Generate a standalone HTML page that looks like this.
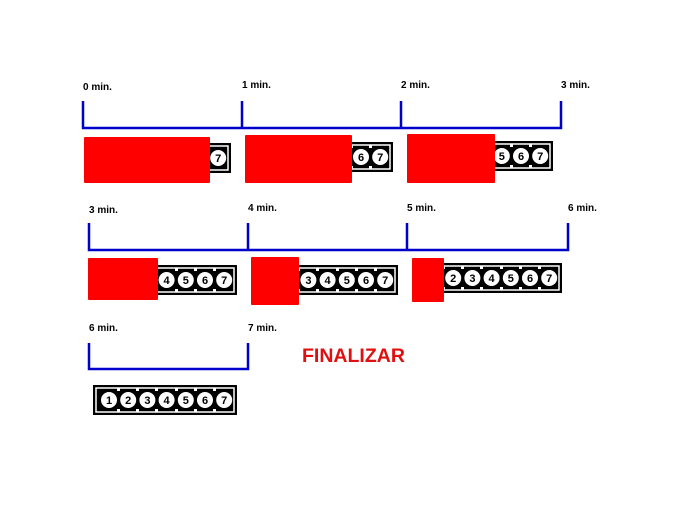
<!DOCTYPE html>
<html><head><meta charset="utf-8"><style>
html,body{margin:0;padding:0;background:#fff;width:700px;height:509px;overflow:hidden}
svg{display:block}
text{font-family:"Liberation Sans",Arial,sans-serif;font-weight:bold}
.l{font-size:10px;fill:#000}
.n{font-size:11px;fill:#000;text-anchor:middle}
</style></head><body>
<svg width="700" height="509" viewBox="0 0 700 509" xmlns="http://www.w3.org/2000/svg">
<g stroke="#0000cc" stroke-width="2.5" fill="none">
<path d="M83,101V128H561V101M242,101V128M401,101V128"/>
<path d="M89,223V250H568V223M248,223V250M407,223V250"/>
<path d="M89,343V369H248V343"/>
</g>
<text class="l" x="83" y="90">0 min.</text>
<text class="l" x="242" y="88">1 min.</text>
<text class="l" x="401" y="88">2 min.</text>
<text class="l" x="561" y="88">3 min.</text>
<text class="l" x="89" y="213">3 min.</text>
<text class="l" x="248" y="211">4 min.</text>
<text class="l" x="407" y="211">5 min.</text>
<text class="l" x="568" y="211">6 min.</text>
<text class="l" x="89" y="331">6 min.</text>
<text class="l" x="248" y="331">7 min.</text>
<text x="302" y="362" style="font-size:19.5px;fill:#e01010">FINALIZAR</text>

<g transform="translate(87,143)"><rect width="144" height="30" fill="#000"/><rect x="3" y="3" width="138" height="24" fill="none" stroke="#fff" stroke-width="1.5"/><g fill="#fff"><circle cx="16" cy="15" r="8"/><circle cx="35.2" cy="15" r="8"/><circle cx="54.4" cy="15" r="8"/><circle cx="73.6" cy="15" r="8"/><circle cx="92.8" cy="15" r="8"/><circle cx="112" cy="15" r="8"/><circle cx="131.2" cy="15" r="8"/><rect x="24" y="3" width="3" height="3"/><rect x="43" y="3" width="3" height="3"/><rect x="62" y="3" width="3" height="3"/><rect x="82" y="3" width="3" height="3"/><rect x="101" y="3" width="3" height="3"/><rect x="120" y="3" width="3" height="3"/><rect x="24" y="24" width="3" height="3"/><rect x="43" y="24" width="3" height="3"/><rect x="62" y="24" width="3" height="3"/><rect x="82" y="24" width="3" height="3"/><rect x="101" y="24" width="3" height="3"/><rect x="120" y="24" width="3" height="3"/></g><text class="n" x="16" y="19">1</text><text class="n" x="35.2" y="19">2</text><text class="n" x="54.4" y="19">3</text><text class="n" x="73.6" y="19">4</text><text class="n" x="92.8" y="19">5</text><text class="n" x="112" y="19">6</text><text class="n" x="131.2" y="19">7</text></g>

<g transform="translate(249,142)"><rect width="144" height="30" fill="#000"/><rect x="3" y="3" width="138" height="24" fill="none" stroke="#fff" stroke-width="1.5"/><g fill="#fff"><circle cx="16" cy="15" r="8"/><circle cx="35.2" cy="15" r="8"/><circle cx="54.4" cy="15" r="8"/><circle cx="73.6" cy="15" r="8"/><circle cx="92.8" cy="15" r="8"/><circle cx="112" cy="15" r="8"/><circle cx="131.2" cy="15" r="8"/><rect x="24" y="3" width="3" height="3"/><rect x="43" y="3" width="3" height="3"/><rect x="62" y="3" width="3" height="3"/><rect x="82" y="3" width="3" height="3"/><rect x="101" y="3" width="3" height="3"/><rect x="120" y="3" width="3" height="3"/><rect x="24" y="24" width="3" height="3"/><rect x="43" y="24" width="3" height="3"/><rect x="62" y="24" width="3" height="3"/><rect x="82" y="24" width="3" height="3"/><rect x="101" y="24" width="3" height="3"/><rect x="120" y="24" width="3" height="3"/></g><text class="n" x="16" y="19">1</text><text class="n" x="35.2" y="19">2</text><text class="n" x="54.4" y="19">3</text><text class="n" x="73.6" y="19">4</text><text class="n" x="92.8" y="19">5</text><text class="n" x="112" y="19">6</text><text class="n" x="131.2" y="19">7</text></g>

<g transform="translate(409,141)"><rect width="144" height="30" fill="#000"/><rect x="3" y="3" width="138" height="24" fill="none" stroke="#fff" stroke-width="1.5"/><g fill="#fff"><circle cx="16" cy="15" r="8"/><circle cx="35.2" cy="15" r="8"/><circle cx="54.4" cy="15" r="8"/><circle cx="73.6" cy="15" r="8"/><circle cx="92.8" cy="15" r="8"/><circle cx="112" cy="15" r="8"/><circle cx="131.2" cy="15" r="8"/><rect x="24" y="3" width="3" height="3"/><rect x="43" y="3" width="3" height="3"/><rect x="62" y="3" width="3" height="3"/><rect x="82" y="3" width="3" height="3"/><rect x="101" y="3" width="3" height="3"/><rect x="120" y="3" width="3" height="3"/><rect x="24" y="24" width="3" height="3"/><rect x="43" y="24" width="3" height="3"/><rect x="62" y="24" width="3" height="3"/><rect x="82" y="24" width="3" height="3"/><rect x="101" y="24" width="3" height="3"/><rect x="120" y="24" width="3" height="3"/></g><text class="n" x="16" y="19">1</text><text class="n" x="35.2" y="19">2</text><text class="n" x="54.4" y="19">3</text><text class="n" x="73.6" y="19">4</text><text class="n" x="92.8" y="19">5</text><text class="n" x="112" y="19">6</text><text class="n" x="131.2" y="19">7</text></g>

<g transform="translate(93,265)"><rect width="144" height="30" fill="#000"/><rect x="3" y="3" width="138" height="24" fill="none" stroke="#fff" stroke-width="1.5"/><g fill="#fff"><circle cx="16" cy="15" r="8"/><circle cx="35.2" cy="15" r="8"/><circle cx="54.4" cy="15" r="8"/><circle cx="73.6" cy="15" r="8"/><circle cx="92.8" cy="15" r="8"/><circle cx="112" cy="15" r="8"/><circle cx="131.2" cy="15" r="8"/><rect x="24" y="3" width="3" height="3"/><rect x="43" y="3" width="3" height="3"/><rect x="62" y="3" width="3" height="3"/><rect x="82" y="3" width="3" height="3"/><rect x="101" y="3" width="3" height="3"/><rect x="120" y="3" width="3" height="3"/><rect x="24" y="24" width="3" height="3"/><rect x="43" y="24" width="3" height="3"/><rect x="62" y="24" width="3" height="3"/><rect x="82" y="24" width="3" height="3"/><rect x="101" y="24" width="3" height="3"/><rect x="120" y="24" width="3" height="3"/></g><text class="n" x="16" y="19">1</text><text class="n" x="35.2" y="19">2</text><text class="n" x="54.4" y="19">3</text><text class="n" x="73.6" y="19">4</text><text class="n" x="92.8" y="19">5</text><text class="n" x="112" y="19">6</text><text class="n" x="131.2" y="19">7</text></g>

<g transform="translate(254,265)"><rect width="144" height="30" fill="#000"/><rect x="3" y="3" width="138" height="24" fill="none" stroke="#fff" stroke-width="1.5"/><g fill="#fff"><circle cx="16" cy="15" r="8"/><circle cx="35.2" cy="15" r="8"/><circle cx="54.4" cy="15" r="8"/><circle cx="73.6" cy="15" r="8"/><circle cx="92.8" cy="15" r="8"/><circle cx="112" cy="15" r="8"/><circle cx="131.2" cy="15" r="8"/><rect x="24" y="3" width="3" height="3"/><rect x="43" y="3" width="3" height="3"/><rect x="62" y="3" width="3" height="3"/><rect x="82" y="3" width="3" height="3"/><rect x="101" y="3" width="3" height="3"/><rect x="120" y="3" width="3" height="3"/><rect x="24" y="24" width="3" height="3"/><rect x="43" y="24" width="3" height="3"/><rect x="62" y="24" width="3" height="3"/><rect x="82" y="24" width="3" height="3"/><rect x="101" y="24" width="3" height="3"/><rect x="120" y="24" width="3" height="3"/></g><text class="n" x="16" y="19">1</text><text class="n" x="35.2" y="19">2</text><text class="n" x="54.4" y="19">3</text><text class="n" x="73.6" y="19">4</text><text class="n" x="92.8" y="19">5</text><text class="n" x="112" y="19">6</text><text class="n" x="131.2" y="19">7</text></g>

<g transform="translate(418,263)"><rect width="144" height="30" fill="#000"/><rect x="3" y="3" width="138" height="24" fill="none" stroke="#fff" stroke-width="1.5"/><g fill="#fff"><circle cx="16" cy="15" r="8"/><circle cx="35.2" cy="15" r="8"/><circle cx="54.4" cy="15" r="8"/><circle cx="73.6" cy="15" r="8"/><circle cx="92.8" cy="15" r="8"/><circle cx="112" cy="15" r="8"/><circle cx="131.2" cy="15" r="8"/><rect x="24" y="3" width="3" height="3"/><rect x="43" y="3" width="3" height="3"/><rect x="62" y="3" width="3" height="3"/><rect x="82" y="3" width="3" height="3"/><rect x="101" y="3" width="3" height="3"/><rect x="120" y="3" width="3" height="3"/><rect x="24" y="24" width="3" height="3"/><rect x="43" y="24" width="3" height="3"/><rect x="62" y="24" width="3" height="3"/><rect x="82" y="24" width="3" height="3"/><rect x="101" y="24" width="3" height="3"/><rect x="120" y="24" width="3" height="3"/></g><text class="n" x="16" y="19">1</text><text class="n" x="35.2" y="19">2</text><text class="n" x="54.4" y="19">3</text><text class="n" x="73.6" y="19">4</text><text class="n" x="92.8" y="19">5</text><text class="n" x="112" y="19">6</text><text class="n" x="131.2" y="19">7</text></g>

<g transform="translate(93,385)"><rect width="144" height="30" fill="#000"/><rect x="3" y="3" width="138" height="24" fill="none" stroke="#fff" stroke-width="1.5"/><g fill="#fff"><circle cx="16" cy="15" r="8"/><circle cx="35.2" cy="15" r="8"/><circle cx="54.4" cy="15" r="8"/><circle cx="73.6" cy="15" r="8"/><circle cx="92.8" cy="15" r="8"/><circle cx="112" cy="15" r="8"/><circle cx="131.2" cy="15" r="8"/><rect x="24" y="3" width="3" height="3"/><rect x="43" y="3" width="3" height="3"/><rect x="62" y="3" width="3" height="3"/><rect x="82" y="3" width="3" height="3"/><rect x="101" y="3" width="3" height="3"/><rect x="120" y="3" width="3" height="3"/><rect x="24" y="24" width="3" height="3"/><rect x="43" y="24" width="3" height="3"/><rect x="62" y="24" width="3" height="3"/><rect x="82" y="24" width="3" height="3"/><rect x="101" y="24" width="3" height="3"/><rect x="120" y="24" width="3" height="3"/></g><text class="n" x="16" y="19">1</text><text class="n" x="35.2" y="19">2</text><text class="n" x="54.4" y="19">3</text><text class="n" x="73.6" y="19">4</text><text class="n" x="92.8" y="19">5</text><text class="n" x="112" y="19">6</text><text class="n" x="131.2" y="19">7</text></g>

<g fill="#ff0000">
<rect x="84" y="137" width="126" height="46" rx="1"/>
<rect x="245" y="135" width="107" height="48" rx="1"/>
<rect x="407" y="134" width="88" height="49" rx="1"/>
<rect x="88" y="258" width="70" height="42" rx="1"/>
<rect x="251" y="257" width="48" height="48" rx="1"/>
<rect x="412" y="258" width="32" height="44" rx="1"/>
</g>
</svg>
</body></html>
